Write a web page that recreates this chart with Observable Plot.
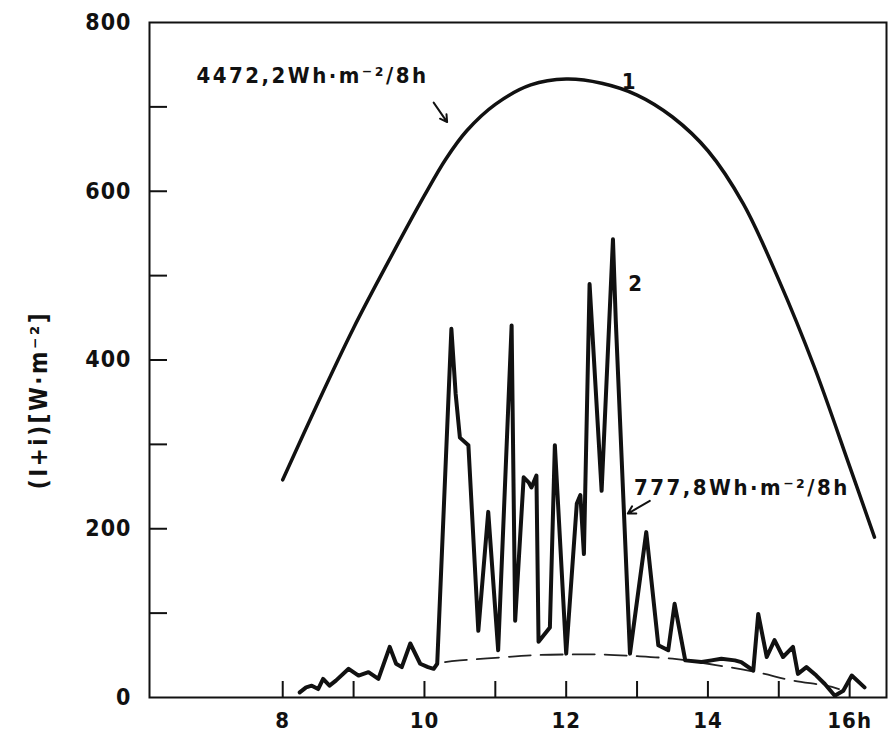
<!DOCTYPE html>
<html>
<head>
<meta charset="utf-8">
<script src="https://cdn.jsdelivr.net/npm/d3@7"></script>
<script src="https://cdn.jsdelivr.net/npm/@observablehq/plot@0.6"></script>
<style>
  body { margin: 0; background: #fff; }
  #chart svg { display: block; }
  #chart g[aria-label="text"] text { letter-spacing: 2.5px; }
  #chart g[aria-label="y-axis tick label"] text,
  #chart g[aria-label="x-axis tick label"] text { letter-spacing: 1px; }
</style>
</head>
<body>
<div id="chart"></div>
<script>
// Curve 1: clear-sky global irradiance (hour, W/m2)
const hours1 = [8.0, 8.5, 9.0, 9.5, 10.0, 10.3, 10.6, 11.0, 11.5, 12.0, 12.5, 13.0, 13.5, 14.0, 14.5, 15.0, 15.5, 16.0, 16.35];
const irr1   = [258, 350, 438, 518, 595, 638, 672, 703, 726, 733, 728, 714, 688, 648, 585, 495, 392, 274, 190];

// Curve 2: measured irradiance (hour, W/m2)
const hours2 = [8.24, 8.33, 8.41, 8.5, 8.57, 8.66, 8.75, 8.93, 9.07, 9.21, 9.35, 9.51, 9.6, 9.68, 9.8, 9.94, 10.05, 10.13, 10.18,
                10.38, 10.44, 10.5, 10.62, 10.76, 10.9, 11.04, 11.23, 11.28, 11.4, 11.47, 11.51, 11.58, 11.61, 11.77, 11.84,
                12.0, 12.15, 12.2, 12.25, 12.33, 12.5, 12.66, 12.7, 12.9, 13.13, 13.3, 13.44, 13.53, 13.68, 13.91, 14.05,
                14.19, 14.38, 14.47, 14.64, 14.71, 14.83, 14.94, 15.06, 15.2, 15.27, 15.39, 15.53, 15.65, 15.79, 15.91, 16.03, 16.21];
const irr2   = [6, 12, 14, 10, 22, 14, 20, 34, 26, 30, 22, 60, 40, 36, 64, 40, 36, 34, 40,
                437, 360, 308, 299, 79, 220, 56, 441, 91, 261, 255, 249, 263, 66, 83, 299,
                52, 230, 240, 170, 490, 245, 543, 446, 52, 196, 62, 56, 111, 44, 42, 44,
                46, 44, 42, 32, 99, 48, 68, 48, 60, 28, 36, 26, 16, 2, 8, 26, 12];

// Dashed curve: diffuse component (hour, W/m2)
const hoursD = [10.29, 10.5, 11.0, 11.5, 12.0, 12.5, 13.0, 13.5, 14.0, 14.5, 14.85, 15.2, 15.6, 15.85];
const irrD   = [42, 44, 47, 50, 51, 51, 49, 46, 40, 33, 27, 20, 15, 10];

// Axis ticks
const xTicks = [8, 9, 10, 11, 12, 13, 14, 15, 16];
const xTickLabels = [8, 10, 12, 14, 16];
const yTickLabels = [0, 200, 400, 600, 800];
const yTicks = [100, 200, 300, 400, 500, 600, 700];

// Annotations
const labelTexts = ["4472,2Wh·m⁻²/8h", "1", "2", "777,8Wh·m⁻²/8h"];
const labelHours = [8.42, 12.9, 12.99, 14.48];
const labelValues = [737, 729, 490, 248];
const arrowFromH = [10.13, 13.18];
const arrowFromV = [705, 233];
const arrowToH = [10.32, 12.87];
const arrowToV = [682, 218];
const yTitle = "(I+i)[W·m⁻²]";

const s1 = hours1.map((h, i) => ({h, v: irr1[i]}));
const s2 = hours2.map((h, i) => ({h, v: irr2[i]}));
const sD = hoursD.map((h, i) => ({h, v: irrD[i]}));
const labels = labelTexts.map((t, i) => ({t, h: labelHours[i], v: labelValues[i]}));
const arrows = arrowFromH.map((h, i) => ({x1: h, y1: arrowFromV[i], x2: arrowToH[i], y2: arrowToV[i]}));

const font = "'DejaVu Sans Condensed', 'DejaVu Sans', sans-serif";

const chart = Plot.plot({
  width: 892,
  height: 742,
  marginLeft: 149,
  marginRight: 6,
  marginTop: 22,
  marginBottom: 45,
  style: {fontFamily: font, fontSize: "21px", fontWeight: "bold", color: "#111", background: "#fff"},
  x: {domain: [6.12, 16.52]},
  y: {domain: [0, 800]},
  marks: [
    Plot.frame({stroke: "#111", strokeWidth: 2}),
    Plot.axisY(yTicks, {tickSize: -18, tickFormat: () => "", strokeWidth: 2}),
    Plot.axisY(yTickLabels, {tickSize: 0, tickPadding: 18, fontSize: 23}),
    Plot.axisX(xTicks, {tickSize: -16, tickFormat: () => "", strokeWidth: 2}),
    Plot.axisX(xTickLabels, {tickSize: 0, tickPadding: 15, fontSize: 22,
      tickFormat: d => d === 16 ? "16h" : String(d)}),
    Plot.line(sD, {x: "h", y: "v", stroke: "#222", strokeWidth: 1.8, strokeDasharray: "22,10", curve: "natural"}),
    Plot.line(s1, {x: "h", y: "v", stroke: "#111", strokeWidth: 3.5, curve: "catmull-rom"}),
    Plot.line(s2, {x: "h", y: "v", stroke: "#111", strokeWidth: 4, strokeLinejoin: "round"}),
    Plot.arrow(arrows, {x1: "x1", y1: "y1", x2: "x2", y2: "y2", stroke: "#111", strokeWidth: 2, headLength: 9}),
    Plot.text(labels, {x: "h", y: "v", text: "t", fontSize: 22, fill: "#111"}),
    Plot.text([yTitle], {frameAnchor: "left", rotate: -90, textAnchor: "middle", dx: -110, dy: 40, fontSize: 24, fill: "#111"})
  ]
});
document.getElementById("chart").appendChild(chart);
</script>
</body>
</html>
